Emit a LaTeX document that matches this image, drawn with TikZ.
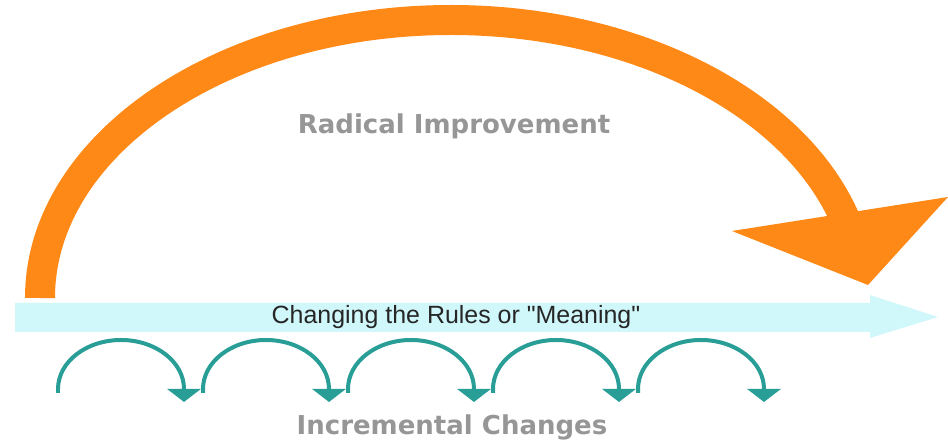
\documentclass[tikz,border=0pt]{standalone}
\usepackage{fontspec}
\setmainfont{Liberation Sans}
\newfontfamily\headfont{DejaVu Sans}
\usetikzlibrary{arrows.meta}

\definecolor{radorange}{RGB}{255,137,22}
\definecolor{rulecyan}{RGB}{208,247,250}
\definecolor{stepteal}{RGB}{40,158,150}
\definecolor{headgray}{RGB}{150,150,150}

\tikzset{
  headtext/.style={font=\headfont\bfseries\fontsize{14.8pt}{17pt}\selectfont, text=headgray},
  ruletext/.style={font=\fontsize{14.2pt}{17pt}\selectfont, text=black!85},
  steparc/.style={stepteal, line width=0.08cm, -{Triangle[width=0.66cm,length=0.26cm]}}
}

\begin{document}
\begin{tikzpicture}[x=0.02cm,y=0.02cm]
  \useasboundingbox (0,0) rectangle (948,446);

  % Draw the big arc
  \coordinate (bigstart) at (40,148);
  \draw [radorange,line width=0.6cm] (bigstart) arc [start angle=180, end angle=15, x radius=411, y radius=278];

  % Draw the big arrowhead
  \coordinate (wingl) at (732,215);
  \coordinate (wingr) at (948,249);
  \coordinate (bigtip) at (868,161);
  \fill [radorange] (wingl) -- (wingr) -- (bigtip) -- cycle;

  % Draw the rule arrow
  \fill [rulecyan] (15,143) -- (870,143) -- (870,151) -- (938,129) -- (870,108) -- (870,114) -- (15,114) -- cycle;
  \node [ruletext] (rules) at (456,129) {Changing the Rules or \textquotedbl Meaning\textquotedbl};

  % Draw the small steps
  \foreach \i in {0,...,4}
    \draw [steparc] (58+145*\i,53) -- ++(0,4) arc [start angle=180, end angle=0, x radius=63, y radius=49] -- ++(0,-13);

  % Labels
  \node [headtext] (radical) at (454,320) {Radical Improvement};
  \node [headtext] (incremental) at (452,19) {Incremental Changes};
\end{tikzpicture}
\end{document}
